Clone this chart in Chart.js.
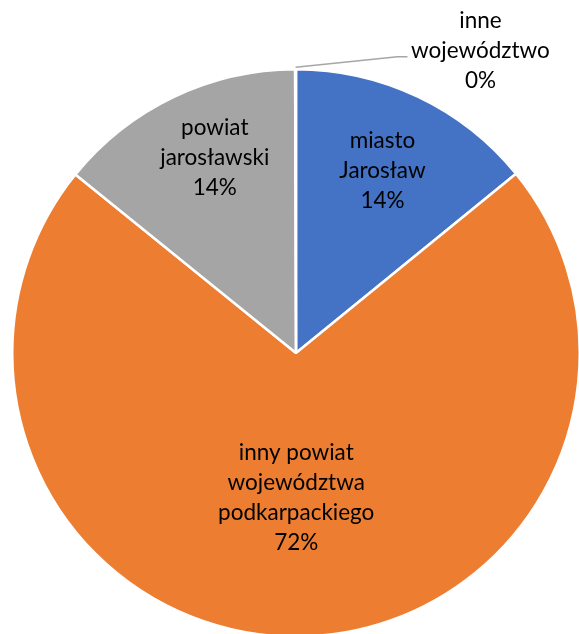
<!DOCTYPE html>
<html>
<head>
<meta charset="utf-8">
<script src="https://cdn.jsdelivr.net/npm/chart.js@4.4.0/dist/chart.umd.min.js"></script>
<style>
  html, body { margin: 0; padding: 0; width: 579px; height: 634px; overflow: hidden; background: #fff; }
  #wrap { position: absolute; left: 0; top: 0; width: 592px; height: 638px; }
</style>
</head>
<body>
<div id="wrap"><canvas id="c"></canvas></div>
<script>
// ---- data ----
const categories = [
  ['miasto', 'Jarosław'],
  ['inny powiat', 'województwa', 'podkarpackiego'],
  ['powiat', 'jarosławski'],
  ['inne', 'województwo']
];
const values = [14.1, 71.6, 14.1, 0.05];
const colors = ['#4472C4', '#ED7D31', '#A5A5A5', '#FFC000'];

// label placement (fraction of radius along the slice mid-angle, plus angle shift in degrees);
// null = outside with leader
const labelRadius = [0.71, 0.51, 0.745, null];
const labelShift = [0, 0, 3, 0];
const FONT = '22.5px Lato, "Open Sans", sans-serif';
const LINE_H = 30;

const labelPlugin = {
  id: 'sliceLabels',
  afterDatasetsDraw(chart) {
    const ctx = chart.ctx;
    const meta = chart.getDatasetMeta(0);
    const total = values.reduce((a, b) => a + b, 0);
    ctx.save();
    ctx.font = FONT;
    ctx.fillStyle = '#000000';
    ctx.textAlign = 'center';
    ctx.textBaseline = 'middle';
    meta.data.forEach((arc, i) => {
      const p = arc.getProps(['x', 'y', 'startAngle', 'endAngle', 'outerRadius'], true);
      const mid = (p.startAngle + p.endAngle) / 2 + labelShift[i] * Math.PI / 180;
      const pct = Math.round(values[i] / total * 100) + '%';
      const lines = categories[i].concat([pct]);
      let cx, cy;
      if (labelRadius[i] !== null) {
        cx = p.x + Math.cos(mid) * p.outerRadius * labelRadius[i];
        cy = p.y + Math.sin(mid) * p.outerRadius * labelRadius[i];
      } else {
        // outside label with leader line
        const ex = p.x + Math.cos(mid) * (p.outerRadius + 2);
        const ey = p.y + Math.sin(mid) * (p.outerRadius + 2);
        cx = p.x + p.outerRadius * 0.65;
        cy = p.y - p.outerRadius * 1.065;
        ctx.save();
        ctx.strokeStyle = '#A6A6A6';
        ctx.lineWidth = 1.5;
        ctx.beginPath();
        ctx.moveTo(ex, ey);
        ctx.lineTo(cx - 83, cy + 6);
        ctx.lineTo(cx - 73, cy + 6);
        ctx.stroke();
        ctx.restore();
      }
      const top = cy - (lines.length - 1) * LINE_H / 2;
      lines.forEach((t, k) => ctx.fillText(t, cx, top + k * LINE_H));
    });
    ctx.restore();
  }
};

new Chart(document.getElementById('c'), {
  type: 'pie',
  data: {
    labels: categories,
    datasets: [{
      data: values,
      backgroundColor: colors,
      borderColor: '#FFFFFF',
      borderWidth: 2.5
    }]
  },
  options: {
    responsive: true,
    maintainAspectRatio: false,
    animation: false,
    events: [],
    layout: { padding: { left: 11, right: 11, top: 68, bottom: 0 } },
    plugins: { legend: { display: false }, tooltip: { enabled: false } }
  },
  plugins: [labelPlugin]
});
</script>
</body>
</html>
